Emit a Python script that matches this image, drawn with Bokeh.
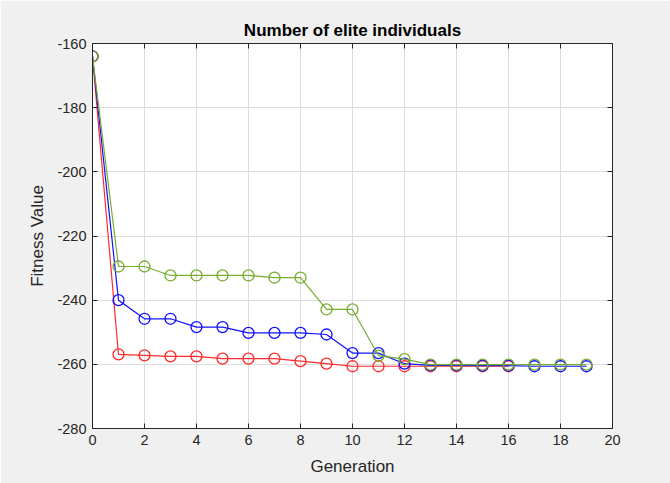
from bokeh.plotting import figure
from bokeh.models import LinearAxis, FixedTicker, Range1d
from bokeh.embed import file_html
from bokeh.resources import INLINE

gen_red = list(range(0, 17))
red = [-164, -256.9, -257.2, -257.5, -257.5, -258.2, -258.2, -258.2, -259.0, -259.8,
       -260.6, -260.6, -260.6, -260.6, -260.6, -260.6, -260.6]
gen_blue = list(range(0, 20))
blue = [-164, -240.0, -245.8, -245.8, -248.4, -248.4, -250.2, -250.2, -250.2, -250.7,
        -256.5, -256.5, -259.8, -260.3, -260.3, -260.4, -260.4, -260.6, -260.6, -260.6]
gen_green = list(range(0, 20))
green = [-164, -229.5, -229.5, -232.3, -232.3, -232.3, -232.3, -233.0, -233.0, -242.9,
         -242.9, -257.3, -258.4, -260.1, -260.1, -260.1, -260.1, -260.1, -260.1, -260.1]

x_ticks = list(range(0, 21, 2))
y_ticks = list(range(-280, -159, 20))
x_tick_labels = [str(t) for t in x_ticks]
y_tick_labels = ["-280", "-260", "-240", "-220", "-200", "-180", "-160"]

BG = "#f0f0f0"
FONT = "Liberation Sans"
INK = "#262626"

p = figure(width=670, height=483, output_backend="svg", toolbar_location=None,
           x_range=Range1d(0, 20), y_range=Range1d(-280, -160),
           min_border_left=92, min_border_right=58, min_border_top=43, min_border_bottom=55,
           background_fill_color="white", border_fill_color=BG,
           title="Number of elite individuals")
p.outline_line_color = INK
p.outline_line_width = 1

p.title.align = "center"
p.title.text_font = FONT
p.title.text_font_size = "17px"
p.title.text_font_style = "bold"
p.title.text_color = "black"
p.title.standoff = 8

for ax in (p.xaxis[0], p.yaxis[0]):
    ax.major_tick_in = 5
    ax.major_tick_out = 0
    ax.minor_tick_in = 0
    ax.minor_tick_out = 0
    ax.axis_line_color = INK
    ax.major_tick_line_color = INK
    ax.major_label_text_font = FONT
    ax.major_label_text_font_size = "14.5px"
    ax.major_label_text_color = INK
    ax.axis_label_text_font = FONT
    ax.axis_label_text_font_size = "17px"
    ax.axis_label_text_font_style = "normal"
    ax.axis_label_text_color = INK
    ax.major_label_standoff = 6

p.xaxis[0].ticker = FixedTicker(ticks=x_ticks)
p.yaxis[0].ticker = FixedTicker(ticks=y_ticks)
p.xaxis[0].major_label_overrides = dict(zip(x_ticks, x_tick_labels))
p.yaxis[0].major_label_overrides = dict(zip(y_ticks, y_tick_labels))
p.xaxis[0].axis_label = "Generation"
p.yaxis[0].axis_label = "Fitness Value"
p.xaxis[0].axis_label_standoff = 9
p.yaxis[0].axis_label_standoff = 7

top = LinearAxis(ticker=FixedTicker(ticks=x_ticks),
                 major_label_overrides={t: "" for t in x_ticks},
                 major_tick_in=5, major_tick_out=0, minor_tick_in=0, minor_tick_out=0,
                 axis_line_color=INK, major_tick_line_color=INK,
                 major_label_standoff=0)
right = LinearAxis(ticker=FixedTicker(ticks=y_ticks),
                   major_label_overrides={t: "" for t in y_ticks},
                   major_tick_in=5, major_tick_out=0, minor_tick_in=0, minor_tick_out=0,
                   axis_line_color=INK, major_tick_line_color=INK,
                   major_label_standoff=0)
p.add_layout(top, "above")
p.add_layout(right, "right")

p.xgrid.ticker = FixedTicker(ticks=x_ticks)
p.ygrid.ticker = FixedTicker(ticks=y_ticks)
p.grid.grid_line_color = "#dcdcdc"
p.grid.grid_line_width = 1

series = [(gen_red, red, "#ff2a2a"), (gen_blue, blue, "#1010ff"), (gen_green, green, "#77ac30")]
for xs, ys, c in series:
    p.line(xs, ys, line_color=c, line_width=1.2)
    p.scatter(xs, ys, marker="circle", size=11, fill_color=None, line_color=c, line_width=1.3)

open("out.html", "w").write(file_html(p, INLINE))
